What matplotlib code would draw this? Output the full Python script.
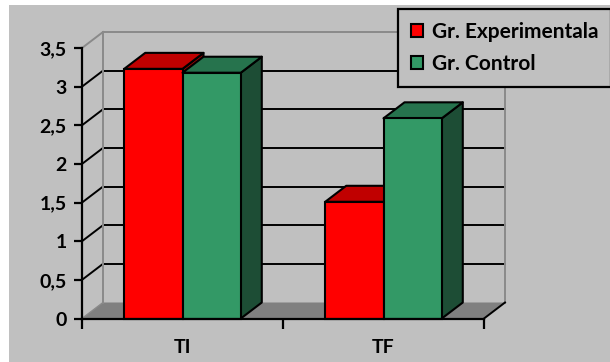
import matplotlib
matplotlib.use("Agg")
import matplotlib.pyplot as plt
from matplotlib.patches import Polygon, Rectangle, Patch

# --- data ---------------------------------------------------------------
categories = ["TI", "TF"]
series_names = ["Gr. Experimentala", "Gr. Control"]
experimental = [3.23, 1.51]
control = [3.18, 2.59]
y_ticks = [0, 0.5, 1, 1.5, 2, 2.5, 3, 3.5]
y_tick_labels = ["0", "0,5", "1", "1,5", "2", "2,5", "3", "3,5"]

# --- style --------------------------------------------------------------
BG = "#c0c0c0"
FLOOR = "#808080"
EDGE_GREY = "#8a8a8a"
front_cols = ["#ff0000", "#339966"]
top_cols = ["#c00000", "#26734d"]
side_cols = ["#a00000", "#1d4d35"]
FONT = ["Lato", "DejaVu Sans"]

W, H, DPI = 610, 362, 100
fig = plt.figure(figsize=(W / DPI, H / DPI), dpi=DPI, facecolor="white")

# grey chart area with a thin white margin on the left/top
fig.patches.append(Rectangle((9 / W, 0), 1 - 9 / W, 1 - 5 / H,
                             transform=fig.transFigure, facecolor=BG,
                             edgecolor="none", zorder=-5))

# front plane of the plot area
left_px, right_px, bottom_px, top_px = 82, 484, 318.5, 48
ax = fig.add_axes([left_px / W, (H - bottom_px) / H,
                   (right_px - left_px) / W, (bottom_px - top_px) / H])
ax.set_zorder(1)
ax.set_xlim(-0.5, len(categories) - 0.5)
ax.set_ylim(0, 3.5)
ax.patch.set_visible(False)

# depth of the 3-D box, converted from pixels to data units
depth_px = (21, 16)
x_unit = (right_px - left_px) / (len(categories))
y_unit = (bottom_px - top_px) / 3.5
ddx = depth_px[0] / x_unit
ddy = depth_px[1] / y_unit

x0, x1 = ax.get_xlim()

def poly(pts, **kw):
    p = Polygon(pts, closed=True, clip_on=False, **kw)
    ax.add_patch(p)
    return p

# floor
poly([(x0, 0), (x1, 0), (x1 + ddx, ddy), (x0 + ddx, ddy)],
     facecolor=FLOOR, edgecolor="none", zorder=1)
ax.plot([x0, x0 + ddx], [0, ddy], color=EDGE_GREY, lw=1, zorder=1.5,
        clip_on=False)

# back wall gridlines and side-wall diagonals
for v in y_ticks[1:-1]:
    ax.plot([x0 + ddx, x1 + ddx], [v + ddy, v + ddy], color="black",
            lw=1.4, zorder=1.2, clip_on=False)
    ax.plot([x0, x0 + ddx], [v, v + ddy], color="black", lw=1.4,
            zorder=1.2, clip_on=False)
# outer edges of the walls
top_v = y_ticks[-1]
ax.plot([x0 + ddx, x1 + ddx], [top_v + ddy, top_v + ddy], color=EDGE_GREY,
        lw=1.4, zorder=1.2, clip_on=False)
ax.plot([x0, x0 + ddx], [top_v, top_v + ddy], color=EDGE_GREY, lw=1.4,
        zorder=1.2, clip_on=False)
ax.plot([x0 + ddx, x0 + ddx], [ddy, top_v + ddy], color=EDGE_GREY, lw=1.4,
        zorder=1.2, clip_on=False)
ax.plot([x1 + ddx, x1 + ddx], [ddy, top_v + ddy], color=EDGE_GREY, lw=1.4,
        zorder=1.2, clip_on=False)
ax.plot([x1, x1 + ddx], [0, ddy], color="black", lw=1.4, zorder=1.3,
        clip_on=False)

# 3-D columns
bar_w = 0.29
series = [experimental, control]
z = 3
for ci in range(len(categories)):
    for si, vals in enumerate(series):
        v = vals[ci]
        xl = ci - bar_w + si * bar_w
        xr = xl + bar_w
        ek = dict(edgecolor="black", linewidth=1.5, joinstyle="round")
        poly([(xr, 0), (xr + ddx, ddy), (xr + ddx, v + ddy), (xr, v)],
             facecolor=side_cols[si], zorder=z, **ek)
        poly([(xl, v), (xr, v), (xr + ddx, v + ddy), (xl + ddx, v + ddy)],
             facecolor=top_cols[si], zorder=z, **ek)
        ax.bar(xl, v, width=bar_w, align="edge", color=front_cols[si],
               edgecolor="black", linewidth=1.5, zorder=z + 0.1,
               clip_on=False)
        z += 1

# axes
for s in ["top", "right"]:
    ax.spines[s].set_visible(False)
for s in ["left", "bottom"]:
    ax.spines[s].set_linewidth(1.6)
    ax.spines[s].set_color("black")
    ax.spines[s].set_zorder(20)

ax.set_yticks(y_ticks)
ax.set_yticklabels(y_tick_labels, fontsize=14, fontweight="bold",
                   family=FONT)
ax.tick_params(axis="y", direction="out", length=6, width=1.6, pad=5,
               colors="black")

ax.set_xticks(range(len(categories)))
ax.set_xticklabels(categories, fontsize=14, fontweight="bold", family=FONT)
ax.set_xticks([x0 + i for i in range(len(categories) + 1)], minor=True)
ax.tick_params(axis="x", which="major", length=0, pad=15)
ax.tick_params(axis="x", which="minor", direction="out", length=7,
               width=1.6)

# legend
handles = [Patch(facecolor=c, edgecolor="black", linewidth=1.5)
           for c in front_cols]
leg = fig.legend(handles, series_names, loc="upper left",
                 bbox_to_anchor=(398 / W, 1 - 9 / H),
                 prop=dict(family=FONT, weight="bold", size=15),
                 handlelength=0.6, handleheight=0.6, handletextpad=0.45,
                 labelspacing=0.6, borderpad=0.6, borderaxespad=0,
                 fancybox=False, framealpha=1, facecolor=BG,
                 edgecolor="black")
leg.get_frame().set_linewidth(1.6)
leg.set_zorder(30)

fig.savefig("out.png", dpi=DPI, facecolor="white")
